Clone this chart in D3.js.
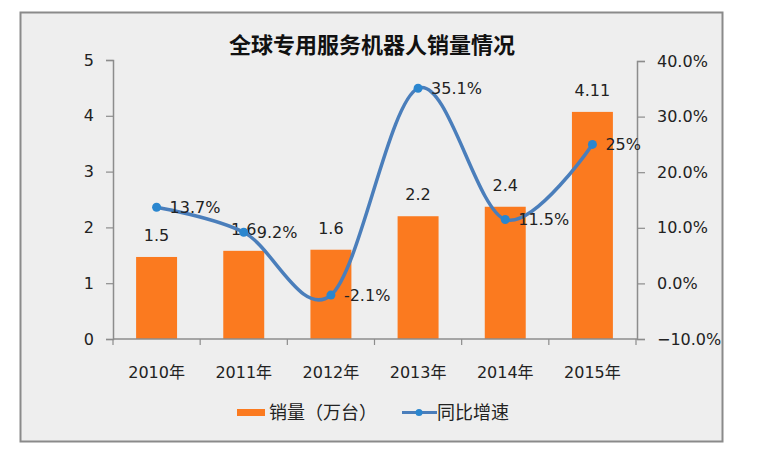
<!DOCTYPE html>
<html><head><meta charset="utf-8">
<script src="https://cdn.jsdelivr.net/npm/d3@7"></script>
<style>
body{margin:0;background:#fff;}
svg{display:block;}
text{font-family:"DejaVu Sans","Noto Sans CJK SC",sans-serif;fill:#222;}
.cjk{font-family:"Noto Sans CJK SC","Noto Sans",sans-serif;}
</style></head>
<body><svg id="c" width="760" height="455"></svg>
<script>
const title = "全球专用服务机器人销量情况";
const years = ["2010年","2011年","2012年","2013年","2014年","2015年"];
const sales = [1.47, 1.58, 1.6, 2.2, 2.37, 4.07];
const salesLabels = ["1.5","1.6","1.6","2.2","2.4","4.11"];
const growth = [0.137, 0.092, -0.021, 0.351, 0.115, 0.25];
const growthLabels = ["13.7%","9.2%","-2.1%","35.1%","11.5%","25%"];
const leftTicks = [0,1,2,3,4,5];
const rightTicks = [-0.1,0,0.1,0.2,0.3,0.4];
const legendNames = ["销量（万台）","同比增速"];

const barColor = "#fb7a1f", lineColor = "#4a7ebb", markerColor = "#2a86cf";
const FS = "16px";
const svg = d3.select("#c");

// frame
svg.append("rect").attr("x",20.5).attr("y",12.5).attr("width",702).attr("height",429)
  .attr("fill","#eeeeee").attr("stroke","#8a8a8a").attr("stroke-width",2);

svg.append("text").attr("class","cjk").attr("x",372).attr("y",53).attr("text-anchor","middle")
  .style("font-size","22px").style("font-weight","bold").style("fill","#111").text(title);

const L = 113, R = 636, T = 60, B = 339;
const x = d3.scaleBand().domain(years).range([L,R]).paddingInner(0.53).paddingOuter(0.265);
const yL = d3.scaleLinear().domain([0,5]).range([B,T]);
const yR = d3.scaleLinear().domain([-0.1,0.4]).range([B,T+1]);
const cx = d => x(d) + x.bandwidth()/2;

// bars
svg.append("g").selectAll("rect").data(sales).join("rect")
  .attr("x",(d,i)=>x(years[i])).attr("y",d=>yL(d))
  .attr("width",x.bandwidth()).attr("height",d=>B-yL(d)).attr("fill",barColor);

// axes
const axisColor = "#8c8c8c";
const gl = svg.append("g").attr("transform",`translate(${L},0)`)
  .call(d3.axisLeft(yL).tickValues(leftTicks).tickSize(7).tickPadding(12).tickFormat(d3.format("d")));
const gr = svg.append("g").attr("transform",`translate(${R+1},0)`)
  .call(d3.axisRight(yR).tickValues(rightTicks).tickSize(8).tickPadding(12).tickFormat(d3.format(".1%")));
[gl,gr].forEach(g=>{
  g.select(".domain").attr("stroke",axisColor).attr("stroke-width",1.5);
  g.selectAll(".tick line").attr("stroke",axisColor).attr("stroke-width",1.2);
  g.selectAll(".tick text").style("font-size",FS).style("fill","#222")
    .attr("font-family",'"DejaVu Sans","Noto Sans CJK SC",sans-serif');
});
// x axis
const gx = svg.append("g");
gx.append("line").attr("x1",L).attr("x2",R+1).attr("y1",B).attr("y2",B)
  .attr("stroke",axisColor).attr("stroke-width",1.5);
gx.selectAll("line.t").data(d3.range(years.length+1)).join("line").attr("class","t")
  .attr("x1",i=>L + i*x.step()).attr("x2",i=>L + i*x.step())
  .attr("y1",B).attr("y2",B+6).attr("stroke",axisColor).attr("stroke-width",1.2);
gx.selectAll("text").data(years).join("text")
  .attr("x",d=>cx(d)).attr("y",378).attr("text-anchor","middle")
  .style("font-size",FS).text(d=>d);

// bar labels
svg.append("g").selectAll("text").data(sales).join("text")
  .attr("x",(d,i)=>cx(years[i])).attr("y",d=>yL(d)-16).attr("text-anchor","middle")
  .style("font-size",FS).text((d,i)=>salesLabels[i]);

// line
const pts = growth.map((g,i)=>[cx(years[i]), yR(g)]);
svg.append("path").attr("d", d3.line().curve(d3.curveCardinal.tension(0))(pts))
  .attr("fill","none").attr("stroke",lineColor).attr("stroke-width",3.5).attr("stroke-linecap","round");
svg.append("g").selectAll("circle").data(pts).join("circle")
  .attr("cx",d=>d[0]).attr("cy",d=>d[1]).attr("r",4.5).attr("fill",markerColor);
svg.append("g").selectAll("text").data(pts).join("text")
  .attr("x",d=>d[0]+13).attr("y",d=>d[1]+6)
  .style("font-size",FS).text((d,i)=>growthLabels[i]);

// legend
const lg = svg.append("g");
lg.append("rect").attr("x",237).attr("y",409).attr("width",28).attr("height",7).attr("fill",barColor);
lg.append("text").attr("class","cjk").attr("x",269).attr("y",419).style("font-size","18px").text(legendNames[0]);
lg.append("line").attr("x1",402).attr("x2",437).attr("y1",412.5).attr("y2",412.5)
  .attr("stroke",lineColor).attr("stroke-width",3);
lg.append("circle").attr("cx",419).attr("cy",412.5).attr("r",3.5).attr("fill",markerColor);
lg.append("text").attr("class","cjk").attr("x",437).attr("y",419).style("font-size","18px").text(legendNames[1]);
</script></body></html>
